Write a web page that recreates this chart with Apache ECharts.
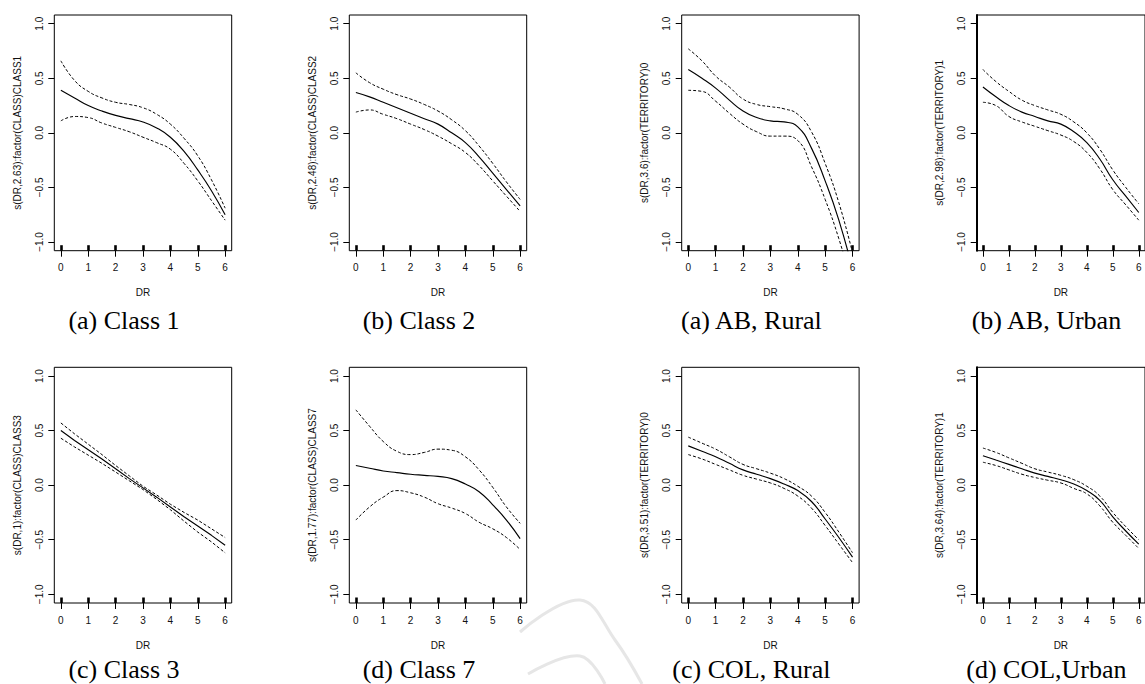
<!DOCTYPE html>
<html>
<head>
<meta charset="utf-8">
<script src="https://cdn.jsdelivr.net/npm/echarts@6/dist/echarts.min.js"></script>
<style>
html,body{margin:0;padding:0;background:#fff;}
#chart{width:1145px;height:684px;}
</style>
</head>
<body>
<div id="chart"></div>
<script>
// ---- data ----
const DR = [0, 0.5, 1, 1.5, 2, 2.5, 3, 3.5, 4, 4.5, 5, 5.5, 6];
const xTicks = [0, 1, 2, 3, 4, 5, 6];
const yTicks = [-1, -0.5, 0, 0.5, 1];
const rugDR = [0, 1, 2, 3, 4, 5, 6];

const yLabels = [
  's(DR,2.63):factor(CLASS)CLASS1',
  's(DR,2.48):factor(CLASS)CLASS2',
  's(DR,3.6):factor(TERRITORY)0',
  's(DR,2.98):factor(TERRITORY)1',
  's(DR,1):factor(CLASS)CLASS3',
  's(DR,1.77):factor(CLASS)CLASS7',
  's(DR,3.51):factor(TERRITORY)0',
  's(DR,3.64):factor(TERRITORY)1'
];
const captions = [
  '(a) Class 1', '(b) Class 2', '(a) AB, Rural', '(b) AB, Urban',
  '(c) Class 3', '(d) Class 7', '(c) COL, Rural', '(d) COL,Urban'
];

const class1Fit = [0.39, 0.32, 0.25, 0.20, 0.16, 0.13, 0.10, 0.045, -0.04, -0.17, -0.34, -0.53, -0.75];
const class1Up  = [0.66, 0.48, 0.38, 0.32, 0.28, 0.26, 0.23, 0.17, 0.08, -0.05, -0.21, -0.43, -0.69];
const class1Lo  = [0.11, 0.15, 0.14, 0.09, 0.05, 0.01, -0.04, -0.09, -0.15, -0.28, -0.44, -0.62, -0.80];

const class2Fit = [0.37, 0.33, 0.28, 0.23, 0.18, 0.13, 0.08, 0.00, -0.09, -0.22, -0.37, -0.52, -0.67];
const class2Up  = [0.55, 0.46, 0.40, 0.35, 0.31, 0.26, 0.20, 0.12, 0.02, -0.12, -0.28, -0.45, -0.61];
const class2Lo  = [0.19, 0.21, 0.17, 0.13, 0.08, 0.03, -0.03, -0.10, -0.18, -0.30, -0.44, -0.58, -0.72];

const abRuralFit = [0.58, 0.50, 0.41, 0.30, 0.20, 0.14, 0.11, 0.10, 0.055, -0.14, -0.44, -0.80, -1.25];
const abRuralUp  = [0.77, 0.66, 0.52, 0.42, 0.31, 0.26, 0.24, 0.22, 0.17, 0.01, -0.28, -0.64, -1.10];
const abRuralLo  = [0.39, 0.38, 0.29, 0.18, 0.08, 0.01, -0.03, -0.03, -0.07, -0.31, -0.61, -0.97, -1.40];

const abUrbanFit = [0.42, 0.33, 0.25, 0.19, 0.15, 0.11, 0.08, 0.01, -0.09, -0.24, -0.43, -0.58, -0.73];
const abUrbanUp  = [0.58, 0.47, 0.38, 0.30, 0.25, 0.21, 0.17, 0.10, 0.00, -0.15, -0.34, -0.50, -0.65];
const abUrbanLo  = [0.28, 0.25, 0.15, 0.10, 0.06, 0.02, -0.02, -0.08, -0.18, -0.33, -0.52, -0.66, -0.80];

const class3Fit = [0.50, 0.41, 0.325, 0.24, 0.15, 0.06, -0.025, -0.11, -0.20, -0.29, -0.375, -0.46, -0.55];
const class3Up  = [0.57, 0.47, 0.375, 0.28, 0.18, 0.085, -0.01, -0.09, -0.175, -0.25, -0.32, -0.40, -0.48];
const class3Lo  = [0.43, 0.35, 0.275, 0.20, 0.12, 0.04, -0.04, -0.13, -0.225, -0.33, -0.43, -0.52, -0.62];

const class7Fit = [0.18, 0.155, 0.13, 0.115, 0.10, 0.09, 0.08, 0.06, 0.01, -0.06, -0.18, -0.32, -0.49];
const class7Up  = [0.69, 0.54, 0.40, 0.31, 0.28, 0.30, 0.33, 0.32, 0.26, 0.14, -0.02, -0.20, -0.35];
const class7Lo  = [-0.32, -0.20, -0.11, -0.05, -0.07, -0.11, -0.17, -0.21, -0.26, -0.34, -0.40, -0.48, -0.59];

const colRuralFit = [0.36, 0.31, 0.26, 0.20, 0.14, 0.10, 0.06, 0.01, -0.05, -0.15, -0.31, -0.48, -0.66];
const colRuralUp  = [0.44, 0.385, 0.33, 0.26, 0.19, 0.15, 0.11, 0.06, -0.01, -0.10, -0.25, -0.43, -0.62];
const colRuralLo  = [0.28, 0.24, 0.19, 0.14, 0.09, 0.055, 0.02, -0.03, -0.10, -0.21, -0.37, -0.54, -0.71];

const colUrbanFit = [0.27, 0.23, 0.19, 0.15, 0.11, 0.08, 0.05, 0.01, -0.05, -0.14, -0.29, -0.42, -0.54];
const colUrbanUp  = [0.34, 0.30, 0.25, 0.20, 0.15, 0.12, 0.09, 0.05, -0.01, -0.10, -0.25, -0.38, -0.50];
const colUrbanLo  = [0.21, 0.18, 0.14, 0.10, 0.07, 0.045, 0.02, -0.03, -0.08, -0.19, -0.34, -0.46, -0.58];

const panelData = [
  [class1Fit, class1Up, class1Lo],
  [class2Fit, class2Up, class2Lo],
  [abRuralFit, abRuralUp, abRuralLo],
  [abUrbanFit, abUrbanUp, abUrbanLo],
  [class3Fit, class3Up, class3Lo],
  [class7Fit, class7Up, class7Lo],
  [colRuralFit, colRuralUp, colRuralLo],
  [colUrbanFit, colUrbanUp, colUrbanLo]
];

// ---- layout ----
const colLeft = [54.3, 349.3, 681.7, 976.7];
const rowTop = [15, 367.3];
const boxW = 177.4, boxH = 235.7;
const capY = [320, 669];
const sans = '"Liberation Sans", Arial, Helvetica, sans-serif';
const serif = '"Liberation Serif", "Times New Roman", serif';

const chart = echarts.init(document.getElementById('chart'), null, {renderer: 'svg'});
const option = {
  animation: false,
  backgroundColor: '#ffffff',
  grid: [], xAxis: [], yAxis: [], series: [], graphic: []
};

const pair = arr => DR.map((x, i) => [x, arr[i]]);
const fmtY = v => (v < 0 ? '\u2212' : '') + Math.abs(v).toFixed(1);

for (let p = 0; p < 8; p++) {
  const r = Math.floor(p / 4), c = p % 4;
  option.grid.push({
    left: colLeft[c], top: rowTop[r], width: boxW, height: boxH,
    show: true, borderColor: '#000', borderWidth: 1, backgroundColor: 'transparent',
    containLabel: false
  });
  // main x axis
  option.xAxis.push({
    type: 'value', gridIndex: p, min: -0.24, max: 6.24, position: 'bottom', offset: 0,
    name: 'DR', nameLocation: 'middle', nameGap: 37,
    nameTextStyle: {fontFamily: sans, fontSize: 10, color: '#111'},
    axisLine: {show: false, onZero: false},
    axisTick: {show: true, length: 6, lineStyle: {color: '#000', width: 1}, customValues: xTicks},
    axisLabel: {show: true, margin: 12, fontFamily: sans, fontSize: 10, color: '#111', customValues: xTicks},
    splitLine: {show: false}
  });
  // rug axis (thick inner marks at observed DR values)
  option.xAxis.push({
    type: 'value', gridIndex: p, min: -0.24, max: 6.24, position: 'bottom', offset: 0,
    axisLine: {show: false, onZero: false},
    axisTick: {show: true, inside: true, length: 5.5, lineStyle: {color: '#000', width: 2.6}, customValues: rugDR},
    axisLabel: {show: false},
    splitLine: {show: false}
  });
  option.yAxis.push({
    type: 'value', gridIndex: p, min: -1.08, max: 1.08, position: 'left', offset: 0,
    name: yLabels[p], nameLocation: 'middle', nameGap: 32, nameRotate: 90,
    nameTextStyle: {fontFamily: sans, fontSize: 10, color: '#111'},
    axisLine: {show: c === 3, onZero: false, lineStyle: {color: '#000', width: 2}},
    axisTick: {show: true, length: 6, lineStyle: {color: '#000', width: 1}, customValues: yTicks},
    axisLabel: {show: true, rotate: 90, margin: 10, fontFamily: sans, fontSize: 10, color: '#111',
      customValues: yTicks, formatter: fmtY},
    splitLine: {show: false}
  });
  const [fit, up, lo] = panelData[p];
  const sm = p === 4 ? false : 0.5;
  option.series.push({
    type: 'line', xAxisIndex: 2 * p, yAxisIndex: p, data: pair(fit), smooth: sm,
    showSymbol: false, clip: true, lineStyle: {color: '#000', width: 1.15}, silent: true
  });
  option.series.push({
    type: 'line', xAxisIndex: 2 * p, yAxisIndex: p, data: pair(up), smooth: sm,
    showSymbol: false, clip: true, lineStyle: {color: '#000', width: 1, type: [3, 2]}, silent: true
  });
  option.series.push({
    type: 'line', xAxisIndex: 2 * p, yAxisIndex: p, data: pair(lo), smooth: sm,
    showSymbol: false, clip: true, lineStyle: {color: '#000', width: 1, type: [3, 2]}, silent: true
  });
  option.graphic.push({
    type: 'text', x: colLeft[c] + boxW / 2 - 19, y: capY[r], silent: true,
    style: {text: captions[p], fill: '#000', font: '26px ' + serif,
      textAlign: 'center', textVerticalAlign: 'middle', align: 'center', verticalAlign: 'middle'}
  });
}

// faint watermark strokes near bottom centre
option.graphic.push({
  type: 'polyline', silent: true, z: -1,
  shape: {points: [[520, 632], [580, 600], [615, 640], [642, 684]], smooth: 0.4},
  style: {stroke: '#e6e6e6', lineWidth: 3, fill: null}
});
option.graphic.push({
  type: 'polyline', silent: true, z: -1,
  shape: {points: [[528, 674], [580, 656], [605, 684]], smooth: 0.4},
  style: {stroke: '#e6e6e6', lineWidth: 3, fill: null}
});

chart.setOption(option);
</script>
</body>
</html>
